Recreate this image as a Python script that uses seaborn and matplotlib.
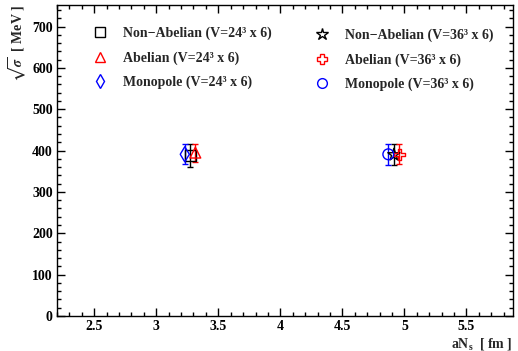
import numpy as np
import pandas as pd
import matplotlib
matplotlib.use("Agg")
import matplotlib.pyplot as plt
from matplotlib.ticker import MultipleLocator
from matplotlib.lines import Line2D
import seaborn as sns

# ---- data ----
labels = ["Non\u2212Abelian (V=24\u00b3 x 6)", "Abelian (V=24\u00b3 x 6)", "Monopole (V=24\u00b3 x 6)",
          "Non\u2212Abelian (V=36\u00b3 x 6)", "Abelian (V=36\u00b3 x 6)", "Monopole (V=36\u00b3 x 6)"]
x_vals = [3.275, 3.315, 3.23, 4.915, 4.96, 4.87]
y_vals = [388, 395, 391, 390, 391, 391]
y_errs = [28, 22, 24, 26, 24, 25]
markers = ["s", "^", "d", "*", "P", "o"]
colors = ["black", "red", "blue", "black", "red", "blue"]
x_ticks = [2.5, 3, 3.5, 4, 4.5, 5, 5.5]
y_ticks = [0, 100, 200, 300, 400, 500, 600, 700]

df = pd.DataFrame({"x": x_vals, "y": y_vals, "err": y_errs, "label": labels})

sns.set_theme(style="ticks")
plt.rcParams["font.family"] = ["Liberation Serif", "DejaVu Serif"]
plt.rcParams["font.weight"] = "bold"
plt.rcParams["mathtext.fontset"] = "custom"
plt.rcParams["mathtext.rm"] = "Liberation Serif:bold"
plt.rcParams["mathtext.it"] = "Liberation Serif:bold"
plt.rcParams["mathtext.bf"] = "Liberation Serif:bold"

fig = plt.figure(figsize=(5.18, 3.51), dpi=100)
ax = fig.add_axes([57 / 518, 35 / 351, 456 / 518, 311 / 351])

for i, row in df.iterrows():
    ax.errorbar(row["x"], row["y"], yerr=row["err"], fmt="none", ecolor=colors[i],
                elinewidth=1, capsize=2.5, capthick=1, zorder=2)
    sns.scatterplot(x=[row["x"]], y=[row["y"]], marker=markers[i], s=60 if markers[i] != "*" else 85,
                    facecolor="none", edgecolor=colors[i], linewidth=1, ax=ax, zorder=3)

ax.set_xlim(2.2, 5.875)
ax.set_ylim(0, 752)
ax.set_xticks(x_ticks)
ax.set_xticklabels([f"{t:g}" for t in x_ticks])
ax.set_yticks(y_ticks)
ax.xaxis.set_minor_locator(MultipleLocator(0.1))
ax.yaxis.set_minor_locator(MultipleLocator(20))
ax.tick_params(which="both", direction="in", top=True, right=True, width=1, colors="black",
               labelsize=10)
ax.tick_params(which="major", length=5.5, pad=3)
ax.tick_params(which="minor", length=2.8)
for lab in ax.get_xticklabels() + ax.get_yticklabels():
    lab.set_fontweight("bold")
for sp in ax.spines.values():
    sp.set_linewidth(1)
    sp.set_color("black")

ax.set_xlabel(r"aN$_{\mathregular{s}}$  [ fm ]", fontsize=10, fontweight="bold", loc="right", labelpad=2)
ax.set_ylabel(r"$\sqrt{\sigma}$  [ MeV ]", fontsize=10, fontweight="bold", loc="top", labelpad=2,
              math_fontfamily="stix")

def handles(idx):
    return [Line2D([], [], marker=markers[i], linestyle="none", markerfacecolor="none",
                   markeredgecolor=colors[i], markersize=7 if markers[i] != "*" else 9,
                   markeredgewidth=1) for i in idx]

prop = {"family": "Liberation Serif", "weight": "bold", "size": 10}
leg1 = ax.legend(handles(range(3)), labels[:3], loc="upper left", bbox_to_anchor=(0.066, 0.948),
                 frameon=False, prop=prop,
                 handlelength=1.0, handletextpad=1.2, labelspacing=0.8, borderaxespad=0)
ax.add_artist(leg1)
ax.legend(handles(range(3, 6)), labels[3:], loc="upper left", bbox_to_anchor=(0.553, 0.942),
          frameon=False, prop=prop,
          handlelength=1.0, handletextpad=1.2, labelspacing=0.8, borderaxespad=0)

fig.savefig("out.png", dpi=100)
